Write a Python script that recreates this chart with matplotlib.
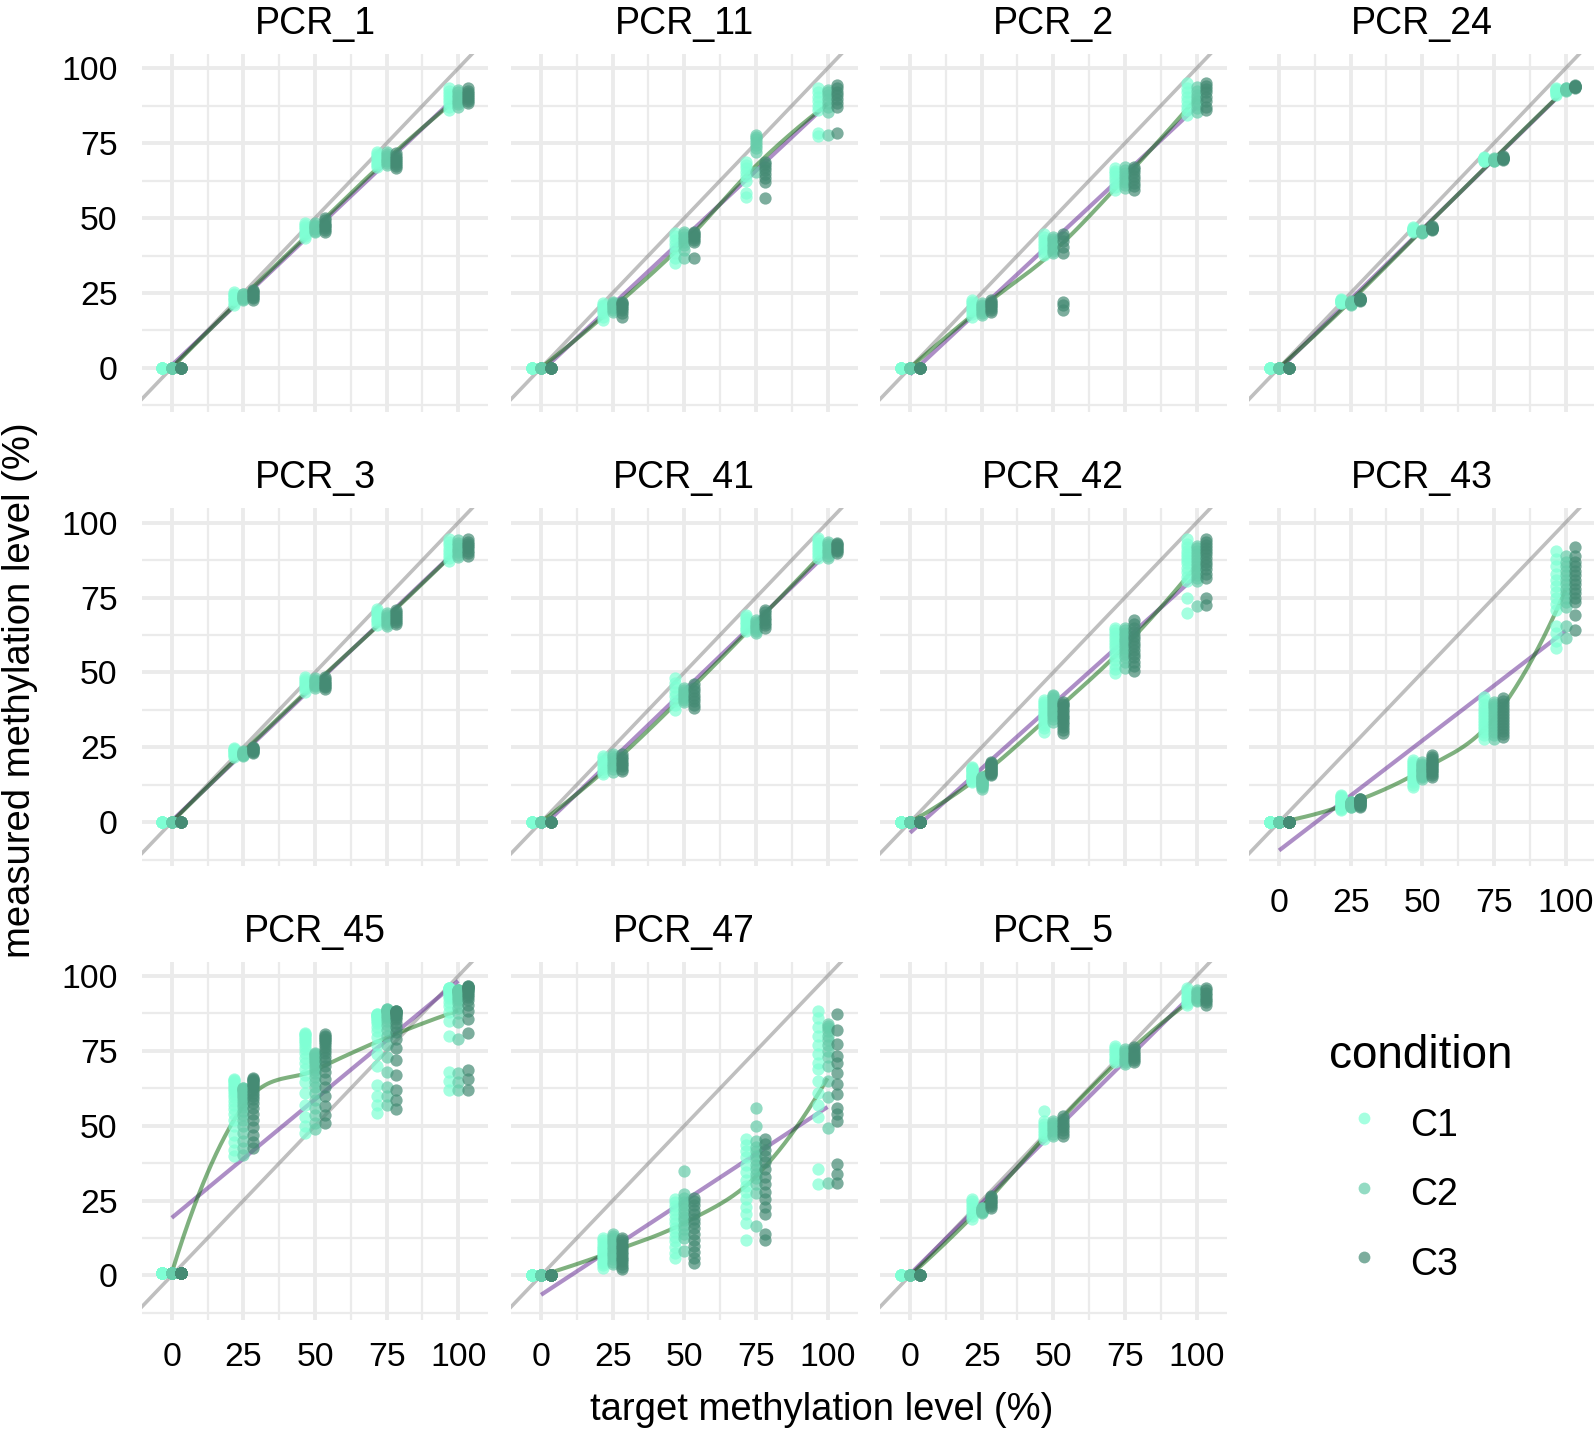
import numpy as np
import matplotlib
matplotlib.use("Agg")
import matplotlib.pyplot as plt
from matplotlib.lines import Line2D

plt.rcParams['font.family'] = ['Liberation Sans', 'DejaVu Sans']

# ---------------------------------------------------------------- data
LEVELS = [0, 25, 50, 75, 100]
CONDITIONS = ['C1', 'C2', 'C3']
PANEL_NAMES = ['PCR_1', 'PCR_11', 'PCR_2', 'PCR_24', 'PCR_3', 'PCR_41',
               'PCR_42', 'PCR_43', 'PCR_45', 'PCR_47', 'PCR_5']
TICKS = [0, 25, 50, 75, 100]
TICK_LABELS = ['0', '25', '50', '75', '100']

Z8 = [0.0, 0.0, 0.0, 0.0, 0.0, 0.0, 0.0, 0.0]
Z14 = [0.0, 0.0, 0.0, 0.0, 0.0, 0.0, 0.0, 0.0, 0.0, 0.0, 0.0, 0.0, 0.0, 0.0]

pcr_1 = {
    'C1': [Z8, [21, 21.8, 22.5, 23, 23.5, 24.2, 24.8, 25.4],
           [43.2, 44, 44.8, 45.5, 46.2, 47, 47.6, 48.2],
           [67.1, 67.8, 68.5, 69.2, 70, 70.8, 71.5, 72.2],
           [86.1, 87.2, 88.3, 89.3, 90.3, 91.3, 92.3, 93.3]],
    'C2': [Z8, [22.6, 22.9, 23.2, 23.5, 23.8, 24.1, 24.5, 24.8],
           [45.4, 45.8, 46.2, 46.6, 47, 47.4, 47.8, 48.2],
           [67.7, 68.3, 68.9, 69.5, 70.1, 70.8, 71.5, 72.2],
           [87.2, 88, 88.8, 89.6, 90.4, 91.2, 92, 92.8]],
    'C3': [Z8, [22.8, 23.3, 23.8, 24.3, 24.8, 25.2, 25.6, 26],
           [45.4, 46, 46.6, 47.2, 47.8, 48.5, 49.2, 49.9],
           [66.6, 67.3, 68, 68.7, 69.4, 70.1, 70.8, 71.6],
           [88.3, 89, 89.7, 90.4, 91.1, 91.8, 92.5, 93.3]],
}

pcr_11 = {
    'C1': [Z8, [15.9, 17, 18.2, 19, 19.8, 20.5, 21, 21.5],
           [34.9, 36.5, 38.5, 40, 41.5, 42.8, 44, 44.9],
           [57.1, 58.3, 62.5, 64, 65.5, 66.8, 67.8, 68.8],
           [77.5, 78.3, 86, 87.5, 89, 90.5, 92, 93.3]],
    'C2': [Z8, [18.7, 19.3, 19.9, 20.4, 20.9, 21.3, 21.7, 22],
           [36.5, 39.5, 41, 42, 43, 43.8, 44.6, 45.4],
           [65.5, 72.2, 73.5, 74.5, 75.5, 76.3, 77, 77.7],
           [77.7, 85.5, 87, 88.5, 89.8, 91, 92, 92.8]],
    'C3': [Z8, [17, 18.2, 19.2, 20, 20.6, 21.2, 21.6, 22],
           [36.5, 42, 42.7, 43.3, 43.9, 44.5, 45, 45.4],
           [56.6, 62, 63.5, 64.8, 66, 67, 68, 68.8],
           [78.3, 87.2, 88.5, 89.8, 91, 92.2, 93.3, 94.4]],
}

pcr_2 = {
    'C1': [Z8, [17, 18, 18.8, 19.6, 20.4, 21.2, 22, 22.6],
           [37.6, 38.8, 39.8, 40.8, 41.8, 42.8, 43.8, 44.7],
           [59.4, 60.5, 61.8, 63, 64, 65, 65.8, 66.6],
           [84.4, 86, 87.5, 89, 90.5, 92, 93.5, 95]],
    'C2': [Z8, [17.6, 18.3, 18.9, 19.5, 20.1, 20.6, 21.1, 21.5],
           [38.2, 39, 39.8, 40.6, 41.4, 42.2, 43, 43.8],
           [59.9, 61, 62, 63, 64, 65, 66, 67.1],
           [85.5, 86.8, 88, 89, 90, 91.2, 92.5, 93.9]],
    'C3': [Z8, [18.7, 19.3, 19.9, 20.5, 21, 21.5, 22, 22.6],
           [19.3, 20.9, 22, 38.2, 40.5, 42.5, 43.7, 44.7],
           [59.4, 60.6, 61.8, 63, 64.2, 65.4, 66.3, 67.1],
           [86.1, 87, 89, 90.5, 92, 93, 94, 95]],
}

pcr_24 = {
    'C1': [Z8, [21.5, 21.8, 22, 22.2, 22.4, 22.6, 22.8, 23],
           [45.5, 45.7, 45.9, 46.1, 46.3, 46.5, 46.7, 46.9],
           [69, 69.2, 69.4, 69.6, 69.8, 70, 70.2, 70.4],
           [91, 91.5, 92, 92.3, 92.6, 92.9, 93.1, 93.3]],
    'C2': [Z8, [21, 21.2, 21.4, 21.5, 21.6, 21.8, 22, 22.2],
           [45, 45.2, 45.3, 45.4, 45.5, 45.6, 45.8, 46],
           [69, 69.2, 69.3, 69.4, 69.5, 69.6, 69.8, 70],
           [92.5, 92.7, 92.8, 93, 93.1, 93.2, 93.3, 93.5]],
    'C3': [Z8, [22.3, 22.5, 22.6, 22.8, 22.9, 23, 23.2, 23.4],
           [46, 46.2, 46.3, 46.5, 46.6, 46.8, 47, 47.2],
           [69.5, 69.7, 69.8, 70, 70.1, 70.2, 70.4, 70.6],
           [93.5, 93.7, 93.8, 93.9, 94, 94.1, 94.2, 94.4]],
}

pcr_3 = {
    'C1': [Z8, [21.8, 22.3, 22.8, 23.3, 23.8, 24.2, 24.5, 24.8],
           [43.6, 44.3, 45, 45.7, 46.4, 47.1, 47.9, 48.6],
           [65.9, 66.7, 67.5, 68.3, 69.1, 69.9, 70.6, 71.3],
           [87.2, 88.2, 89.3, 90.3, 91.3, 92.4, 93.4, 94.4]],
    'C2': [Z8, [22, 22.3, 22.5, 22.8, 23, 23.2, 23.5, 23.7],
           [44.9, 45.3, 45.8, 46.2, 46.7, 47.1, 47.6, 48],
           [65.6, 66.2, 66.8, 67.4, 68, 68.6, 69.2, 69.8],
           [88.5, 89.3, 90.1, 90.9, 91.7, 92.5, 93.3, 94.1]],
    'C3': [Z8, [23.2, 23.5, 23.8, 24.1, 24.3, 24.6, 24.9, 25.1],
           [44.4, 45, 45.5, 46, 46.6, 47.2, 47.8, 48.3],
           [66.1, 66.8, 67.5, 68.2, 68.9, 69.6, 70.3, 70.9],
           [89, 89.8, 90.6, 91.4, 92.1, 92.9, 93.7, 94.4]],
}

pcr_41 = {
    'C1': [Z8, [15.9, 16.8, 17.8, 18.7, 19.6, 20.5, 21.3, 22.1],
           [37.4, 39, 40.5, 42, 43.5, 45, 46.5, 48],
           [63.7, 64.5, 65.3, 66.1, 66.9, 67.7, 68.5, 69.3],
           [88.3, 89.2, 90.2, 91.2, 92.2, 93.2, 94.1, 95]],
    'C2': [Z8, [16.8, 17.7, 18.6, 19.5, 20.4, 21.3, 22.1, 22.9],
           [40.2, 40.8, 41.5, 42.1, 42.8, 43.4, 44.1, 44.7],
           [63.1, 63.7, 64.4, 65, 65.6, 66.3, 66.9, 67.6],
           [88.3, 89, 89.8, 90.5, 91.3, 92.1, 92.9, 93.6]],
    'C3': [Z8, [17, 17.8, 18.6, 19.4, 20.2, 21, 21.8, 22.6],
           [38, 39.2, 40.3, 41.4, 42.6, 43.7, 44.9, 46],
           [64.8, 65.7, 66.5, 67.4, 68.3, 69.2, 70, 70.9],
           [90, 90.5, 91, 91.5, 92, 92.4, 92.9, 93.3]],
}

pcr_42 = {
    'C1': [Z14,
           [13.4, 13.8, 14.2, 14.6, 15, 15.4, 15.8, 16.2, 16.6, 17, 17.4, 17.8, 18.1, 18.4],
           [30.2, 31.5, 32.5, 33.5, 34.3, 35, 35.8, 36.5, 37.2, 38, 38.8, 39.5, 40.2, 40.8],
           [49.7, 51, 52.5, 54, 55.5, 56.8, 58, 59, 60, 61, 62, 63, 64, 64.8],
           [69.8, 74.9, 80.4, 82, 83.5, 85, 86.5, 87.5, 88.5, 89.5, 90.5, 91.8, 93, 94.4]],
    'C2': [Z14,
           [11.2, 11.6, 12, 12.3, 12.6, 12.9, 13.2, 13.5, 13.8, 14.1, 14.4, 14.7, 14.9, 15.1],
           [33.5, 34.5, 35.3, 36, 36.7, 37.4, 38.1, 38.8, 39.5, 40.2, 40.9, 41.5, 42, 42.5],
           [51.4, 53.5, 55, 56.2, 57.3, 58.3, 59.2, 60, 60.8, 61.6, 62.4, 63.2, 64, 64.8],
           [72.1, 80.4, 81.5, 82.5, 83.5, 84.5, 85.5, 86.5, 87.5, 88.5, 89.5, 90.5, 91.4, 92.2]],
    'C3': [Z14,
           [15.6, 16, 16.4, 16.8, 17.2, 17.5, 17.8, 18.1, 18.4, 18.7, 19, 19.3, 19.7, 20.1],
           [29.6, 30.8, 31.8, 32.7, 33.5, 34.3, 35.1, 35.9, 36.7, 37.5, 38.3, 39, 39.6, 40.2],
           [50.3, 52, 53.5, 55, 56.3, 57.5, 58.7, 59.8, 61, 62.2, 63.5, 64.8, 66.2, 67.6],
           [72.6, 74.9, 81.5, 83, 84.5, 85.8, 87, 88.2, 89.4, 90.5, 91.6, 92.6, 93.5, 94.4]],
}

pcr_43 = {
    'C1': [Z14,
           [3.9, 4.3, 4.7, 5.1, 5.5, 5.9, 6.3, 6.7, 7.1, 7.5, 7.9, 8.3, 8.6, 8.9],
           [11.7, 12.5, 13.3, 14, 14.7, 15.4, 16, 16.6, 17.3, 18, 18.7, 19.4, 20.1, 20.7],
           [27.9, 29, 30, 31, 32, 33, 34, 35, 36, 37, 38.2, 39.5, 40.8, 41.9],
           [58.1, 60.5, 63, 65.4, 71, 73, 75, 77, 79, 81, 83, 85.5, 88, 90.5]],
    'C2': [Z14,
           [5, 5.2, 5.4, 5.6, 5.8, 6, 6.1, 6.2, 6.3, 6.4, 6.5, 6.6, 6.65, 6.7],
           [14.5, 15, 15.4, 15.8, 16.2, 16.6, 17, 17.4, 17.8, 18.2, 18.6, 19, 19.5, 20.1],
           [27.9, 29, 30, 31, 32, 33, 34, 35, 36, 37, 38, 38.8, 39.5, 40.2],
           [61.5, 65.5, 72, 73.5, 75, 76.5, 78, 79.5, 81, 82.5, 84, 85.5, 87, 88.8]],
    'C3': [Z14,
           [5, 5.3, 5.6, 5.9, 6.2, 6.5, 6.7, 6.9, 7.1, 7.3, 7.5, 7.6, 7.7, 7.8],
           [15.1, 15.7, 16.3, 16.9, 17.4, 17.9, 18.4, 18.9, 19.4, 19.9, 20.4, 21, 21.7, 22.3],
           [28.5, 29.5, 30.5, 31.5, 32.5, 33.5, 34.5, 35.5, 36.5, 37.5, 38.5, 39.5, 40.4, 41.3],
           [64, 69.3, 73.5, 75, 76.5, 78, 79.5, 81, 82.5, 84, 85.5, 87, 89, 92]],
}

Z20_45 = [0.9, 0.9, 0.9, 0.9, 0.9, 0.9, 0.9, 0.9, 0.9, 0.9,
          0.9, 0.9, 0.9, 0.9, 0.9, 0.9, 0.9, 0.9, 0.9, 0.9]
pcr_45 = {
    'C1': [Z20_45,
           [39.9, 42, 44.5, 47, 50, 52, 54, 55.5, 57, 58.3,
            59.5, 60.5, 61.5, 62.3, 63, 63.7, 64.3, 64.8, 65.2, 65.5],
           [47.7, 50, 53, 57, 61, 64.5, 67, 69, 71, 72.7,
            74.2, 75.5, 76.6, 77.6, 78.4, 79.1, 79.7, 80.2, 80.7, 81.1],
           [54.3, 57, 60, 63.5, 70, 74, 77, 79.5, 81.5, 83,
            84.2, 85, 85.6, 86.1, 86.5, 86.8, 87, 87.1, 87.2, 87.2],
           [62.1, 65, 68, 80, 85, 88, 90, 91.5, 92.6, 93.4,
            94, 94.5, 94.9, 95.2, 95.5, 95.7, 95.9, 96, 96.1, 96.1]],
    'C2': [Z20_45,
           [40.4, 42.5, 45, 47.5, 50, 52, 53.5, 55, 56.2, 57.3,
            58.3, 59.2, 60, 60.7, 61.3, 61.8, 62.1, 62.4, 62.6, 62.7],
           [48.8, 51, 53.5, 56, 58.5, 61, 63, 64.7, 66.2, 67.5,
            68.6, 69.6, 70.5, 71.3, 72, 72.6, 73.1, 73.6, 74, 74.4],
           [57.1, 60, 63, 68, 73, 77, 80, 82, 83.8, 85,
            86, 86.8, 87.4, 87.9, 88.2, 88.5, 88.7, 88.8, 88.9, 88.9],
           [62.1, 64.5, 67.5, 79, 84.5, 87.5, 89.5, 91, 92, 92.8,
            93.4, 93.9, 94.3, 94.6, 94.9, 95.1, 95.3, 95.4, 95.5, 95.5]],
    'C3': [Z20_45,
           [42.6, 44.5, 47, 49.5, 52, 54, 56, 57.5, 58.8, 60,
            61, 62, 62.8, 63.5, 64.1, 64.6, 65, 65.4, 65.7, 66],
           [51, 53.5, 56.5, 60, 63, 65.5, 67.8, 69.8, 71.5, 73,
            74.3, 75.4, 76.4, 77.2, 77.9, 78.5, 79, 79.5, 80, 80.5],
           [55.5, 58.5, 62, 67, 72, 76, 79, 81.3, 83, 84.4,
            85.5, 86.3, 86.9, 87.4, 87.7, 87.9, 88.1, 88.2, 88.3, 88.3],
           [62.1, 65.5, 68.5, 81, 85.5, 88.5, 90.5, 92, 93, 93.8,
            94.5, 95, 95.4, 95.7, 96, 96.2, 96.4, 96.5, 96.6, 96.7]],
}

pcr_47 = {
    'C1': [Z14,
           [2.6, 3.5, 4.3, 5, 5.7, 6.4, 7.1, 7.8, 8.5, 9.2, 10, 10.8, 11.7, 12.6],
           [5.9, 7.6, 9.5, 11.5, 13, 14.5, 16, 17.5, 19, 20.5, 22, 23.3, 24.4, 25.4],
           [12, 17.6, 20.4, 23, 25.5, 28, 30, 32, 34.5, 37, 39.5, 41.5, 43.5, 45.5],
           [30.5, 35.7, 53, 57, 61, 65, 69, 71, 74, 77, 80, 83, 86, 88.5]],
    'C2': [Z14,
           [3.7, 4.6, 5.5, 6.4, 7.2, 8, 8.8, 9.6, 10.4, 11.2, 12, 12.6, 13.2, 13.7],
           [8.1, 12.6, 14, 15.5, 17, 18.5, 19.7, 21, 22.2, 23.4, 24.6, 25.8, 27.1, 34.9],
           [16.5, 27.7, 30.5, 32.5, 34, 35.5, 37, 38.5, 40, 41.5, 43, 45, 50, 56.1],
           [31, 49.4, 59.5, 65, 70, 73, 75, 77, 78.5, 80, 81.5, 82.5, 83.3, 84]],
    'C3': [Z14,
           [2, 2.9, 3.8, 4.7, 5.5, 6.3, 7.1, 7.9, 8.7, 9.5, 10.3, 11.1, 11.9, 12.6],
           [4.2, 6, 8, 10, 12, 14, 16, 17.5, 19, 20.5, 22, 23.5, 24.8, 26],
           [12, 13.7, 20.4, 23, 25.5, 28, 30.5, 33, 35.5, 38, 40, 42, 44, 45.5],
           [31, 34, 37.2, 51.7, 54, 56.1, 60.6, 64, 67.5, 71, 73.4, 77.3, 82, 87.4]],
}

pcr_5 = {
    'C1': [Z8, [18.8, 19.8, 20.8, 21.8, 22.8, 23.8, 24.8, 25.7],
           [45.5, 46.5, 47.5, 48.5, 49.5, 50.5, 51.7, 55],
           [71.2, 72, 72.8, 73.6, 74.4, 75.2, 76, 76.8],
           [90.2, 91, 91.8, 92.6, 93.4, 94.3, 95.2, 96]],
    'C2': [Z8, [21, 21.2, 21.5, 21.7, 21.9, 22.2, 22.5, 22.7],
           [46.7, 47.4, 48.1, 48.8, 49.6, 50.3, 51, 51.7],
           [70.6, 71.3, 72.1, 72.8, 73.5, 74.3, 75, 75.7],
           [91.6, 92.1, 92.6, 93.1, 93.7, 94.2, 94.7, 95.2]],
    'C3': [Z8, [22.7, 23.3, 23.8, 24.4, 25, 25.5, 26.1, 26.6],
           [46.7, 47.6, 48.6, 49.5, 50.4, 51.4, 52.3, 53.3],
           [71.2, 71.9, 72.6, 73.3, 74.1, 74.8, 75.5, 76.2],
           [90.4, 91.2, 92, 92.8, 93.6, 94.4, 95.2, 96]],
}

PANEL_DATA = [pcr_1, pcr_11, pcr_2, pcr_24, pcr_3, pcr_41,
              pcr_42, pcr_43, pcr_45, pcr_47, pcr_5]

# ---------------------------------------------------------------- style
POINT_COLORS = {'C1': '#7FFFD4', 'C2': '#66CDAA', 'C3': '#458B74'}
DODGE_WIDTH = 10.0
LM_COLOR = '#5D1F8F'
LOESS_COLOR = '#006400'
IDENTITY_COLOR = '#808080'
GRID_COLOR = '#EBEBEB'

W, H = 1594, 1432
COL_LEFT = [141.7, 511.0, 880.0, 1249.0]
ROW_TOP = [54.0, 508.3, 961.7]
PW, PH = 346.6, 357.8
XLIM = (-10.5, 110.5)
YLIM = (-14.7, 104.8)


def local_quad(x, y, x0, span=0.75):
    d = np.abs(x - x0)
    q = int(np.floor(len(x) * span))
    h = np.sort(d)[q - 1]
    w = np.clip(1 - (d / h) ** 3, 0, None) ** 3
    X = np.column_stack([np.ones_like(x), x - x0, (x - x0) ** 2])
    sw = np.sqrt(w)
    beta = np.linalg.lstsq(X * sw[:, None], y * sw, rcond=None)[0]
    return beta[0], beta[1]


def loess_curve(x, y, xs):
    verts = np.array(LEVELS, dtype=float)
    vals, slopes = zip(*[local_quad(x, y, v) for v in verts])
    out = np.empty_like(xs)
    for k, xv in enumerate(xs):
        j = min(np.searchsorted(verts, xv, side='right') - 1, len(verts) - 2)
        j = max(j, 0)
        x0, x1 = verts[j], verts[j + 1]
        hh = x1 - x0
        t = (xv - x0) / hh
        h00 = 2 * t**3 - 3 * t**2 + 1
        h10 = t**3 - 2 * t**2 + t
        h01 = -2 * t**3 + 3 * t**2
        h11 = t**3 - t**2
        out[k] = (h00 * vals[j] + h10 * hh * slopes[j]
                  + h01 * vals[j + 1] + h11 * hh * slopes[j + 1])
    return out


fig = plt.figure(figsize=(W / 100, H / 100), dpi=100)

n_panels = len(PANEL_NAMES)
for i, (name, pdata) in enumerate(zip(PANEL_NAMES, PANEL_DATA)):
    r, c = divmod(i, 4)
    ax = fig.add_axes([COL_LEFT[c] / W, 1 - (ROW_TOP[r] + PH) / H, PW / W, PH / H])
    ax.set_xlim(*XLIM)
    ax.set_ylim(*YLIM)
    for sp in ax.spines.values():
        sp.set_visible(False)
    ax.set_xticks(TICKS)
    ax.set_yticks(TICKS)
    ax.set_xticks([12.5, 37.5, 62.5, 87.5], minor=True)
    ax.set_yticks([-12.5, 12.5, 37.5, 62.5, 87.5], minor=True)
    ax.grid(which='major', color=GRID_COLOR, lw=2.8, zorder=0)
    ax.grid(which='minor', color=GRID_COLOR, lw=1.6, zorder=0)
    ax.set_axisbelow(True)

    show_x = (i + 4 >= n_panels)
    show_y = (c == 0)
    ax.tick_params(which='both', length=0, labelsize=24.3, pad=16,
                   labelbottom=show_x, labelleft=show_y, colors='black')
    ax.tick_params(axis='y', pad=17.5)
    if show_x:
        ax.set_xticklabels(TICK_LABELS)
    if show_y:
        ax.set_yticklabels(TICK_LABELS)

    ax.set_title(name, fontsize=27, pad=14.5)

    # identity line
    ax.axline((0, 0), (1, 1), color=IDENTITY_COLOR, alpha=0.5, lw=2.6, zorder=1)

    x_all, y_all = [], []
    for ci, cond in enumerate(CONDITIONS):
        off = (ci - 1) * DODGE_WIDTH / 3
        for lvl, vals in zip(LEVELS, pdata[cond]):
            vals = np.asarray(vals, dtype=float)
            ax.scatter(np.full(len(vals), lvl + off), vals, s=78,
                       color=POINT_COLORS[cond], alpha=0.7, linewidths=0,
                       zorder=4)
            x_all.extend([lvl] * len(vals))
            y_all.extend(vals.tolist())
    x_all = np.asarray(x_all, dtype=float)
    y_all = np.asarray(y_all, dtype=float)

    xs = np.linspace(0, 100, 201)
    coef = np.polyfit(x_all, y_all, 1)
    ax.plot(xs, np.polyval(coef, xs), color=LM_COLOR, alpha=0.5, lw=3.0,
            zorder=2, solid_capstyle='butt')
    ax.plot(xs, loess_curve(x_all, y_all, xs), color=LOESS_COLOR, alpha=0.5,
            lw=2.9, zorder=3, solid_capstyle='butt')

# axis titles
fig.text(821.5 / W, 1 - 1410 / H, 'target methylation level (%)',
         ha='center', va='center', fontsize=27.5)
fig.text(20.5 / W, 1 - 690 / H, 'measured methylation level (%)',
         ha='center', va='center', rotation=90, fontsize=27.5)

# legend
handles = [Line2D([], [], marker='o', linestyle='', markersize=8.5,
                  markerfacecolor=POINT_COLORS[c], markeredgewidth=0,
                  alpha=0.7) for c in CONDITIONS]
leg = fig.legend(handles, CONDITIONS, title='condition', loc='upper left',
                 bbox_to_anchor=(1329 / W, 1 - 1034 / H), frameon=False,
                 fontsize=27, title_fontsize=33, alignment='left',
                 handlelength=1.85, handletextpad=0.3, labelspacing=0.6,
                 handleheight=1.54, borderpad=0.0, borderaxespad=0.0)

fig.savefig('out.png', dpi=100)
